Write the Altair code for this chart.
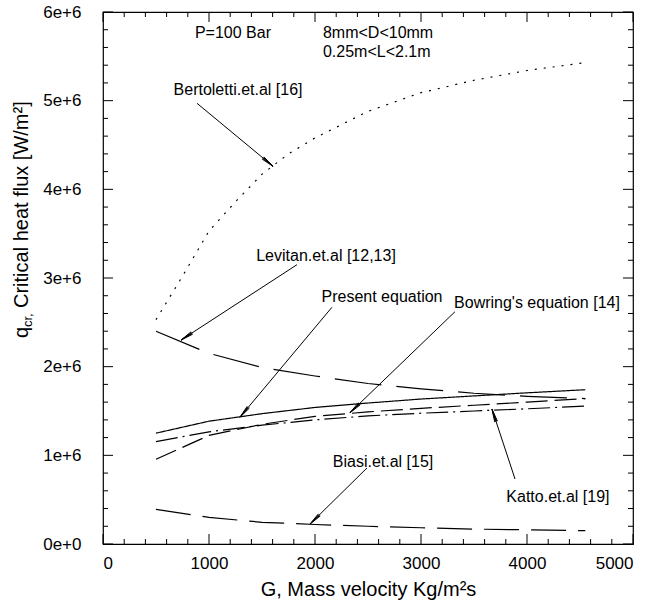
import math
import altair as alt
import pandas as pd

# ---------------- data ----------------
G = [500, 1000, 1500, 2000, 2500, 3000, 3500, 4000, 4550]
bertoletti_G = [500, 750, 1000, 1250, 1500, 1750, 2000, 2500, 3000, 3500, 4000, 4550]
bertoletti_q = [2.53e6, 3.02e6, 3.53e6, 3.86e6, 4.17e6, 4.40e6, 4.58e6, 4.88e6, 5.09e6, 5.23e6, 5.34e6, 5.43e6]
levitan_q = [2.40e6, 2.15e6, 1.99e6, 1.895e6, 1.81e6, 1.75e6, 1.70e6, 1.665e6, 1.64e6]
present_q = [1.25e6, 1.385e6, 1.47e6, 1.54e6, 1.59e6, 1.635e6, 1.67e6, 1.705e6, 1.74e6]
bowring_q = [0.955e6, 1.225e6, 1.35e6, 1.44e6, 1.49e6, 1.53e6, 1.565e6, 1.60e6, 1.64e6]
katto_q = [1.155e6, 1.265e6, 1.34e6, 1.40e6, 1.445e6, 1.475e6, 1.50e6, 1.525e6, 1.555e6]
biasi_q = [0.39e6, 0.30e6, 0.245e6, 0.22e6, 0.20e6, 0.183e6, 0.168e6, 0.16e6, 0.15e6]

# annotations (data coordinates)
ann_text = ["Bertoletti.et.al [16]", "Levitan.et.al [12,13]", "Present equation",
            "Bowring's equation [14]", "Biasi.et.al [15]", "Katto.et.al [19]", "P=100 Bar"]
ann_x = [1274, 2104, 2632, 4094, 2642, 4292, 1226]
ann_y = [5.12e6, 3.25e6, 2.79e6, 2.715e6, 0.925e6, 0.53e6, 5.76e6]
range_text = ["8mm<D<10mm", "0.25m<L<2.1m"]
range_x = [2075, 2075]
range_y = [5.76e6, 5.55e6]

arrow_x0 = [887, 1830, 2160, 3321, 2490, 3887]
arrow_y0 = [4.97e6, 3.15e6, 2.67e6, 2.62e6, 0.857e6, 0.733e6]
arrow_x1 = [1604, 736, 1292, 2330, 1953, 3670]
arrow_y1 = [4.26e6, 2.30e6, 1.43e6, 1.48e6, 0.225e6, 1.52e6]

x_major = [0, 1000, 2000, 3000, 4000, 5000]
x_minor = [200, 400, 600, 800, 1200, 1400, 1600, 1800, 2200, 2400, 2600, 2800,
           3200, 3400, 3600, 3800, 4200, 4400, 4600, 4800]
y_major = [0, 1e6, 2e6, 3e6, 4e6, 5e6, 6e6]
y_minor = [0.2e6, 0.4e6, 0.6e6, 0.8e6, 1.2e6, 1.4e6, 1.6e6, 1.8e6, 2.2e6, 2.4e6, 2.6e6, 2.8e6,
           3.2e6, 3.4e6, 3.6e6, 3.8e6, 4.2e6, 4.4e6, 4.6e6, 4.8e6, 5.2e6, 5.4e6, 5.6e6, 5.8e6]

# ---------------- layout ----------------
W, H = 530, 532
XMAX, YMAX = 5000, 6e6
FONT = "Liberation Sans"
xs = alt.Scale(domain=[0, XMAX], nice=False, zero=False)
ys = alt.Scale(domain=[0, YMAX], nice=False, zero=False)

series = [
    ("Bertoletti", bertoletti_G, bertoletti_q, [2, 7]),
    ("Levitan", G, levitan_q, [47, 15]),
    ("Present", G, present_q, [1, 0]),
    ("Bowring", G, bowring_q, [22, 7]),
    ("Katto", G, katto_q, [22, 5, 2, 5]),
    ("Biasi", G, biasi_q, [35, 12]),
]

layers = []
for name, gx, qy, dash in series:
    df = pd.DataFrame({"G": gx, "q": qy})
    layers.append(
        alt.Chart(df).mark_line(color="black", strokeWidth=1.2, strokeDash=dash, clip=True).encode(
            x=alt.X("G:Q", scale=xs, axis=alt.Axis(
                title="G, Mass velocity Kg/m²s", values=x_major, format="d",
                ticks=False, domain=False, grid=False,
                labelFont=FONT, labelFontSize=17, labelPadding=11, labelColor="black",
                titleFont=FONT, titleFontSize=20, titleFontWeight="normal", titlePadding=8,
                titleColor="black")),
            y=alt.Y("q:Q", scale=ys, axis=alt.Axis(
                title=None, values=y_major, ticks=False, domain=False, grid=False,
                labelExpr="format(datum.value/1e6,'d') + 'e+' + (datum.value == 0 ? '0' : '6')",
                labelFont=FONT, labelFontSize=17, labelPadding=22, labelColor="black")),
            order="G:Q",
        )
    )

# arrows
adf = pd.DataFrame({"x0": arrow_x0, "y0": arrow_y0, "x1": arrow_x1, "y1": arrow_y1})
pxG, pxQ = W / XMAX, H / YMAX
adf["ang"] = [
    math.degrees(math.atan2((b - a) * pxG, (d - c) * pxQ)) % 360
    for a, b, c, d in zip(arrow_x0, arrow_x1, arrow_y0, arrow_y1)
]
layers.append(alt.Chart(adf).mark_rule(color="black", strokeWidth=1).encode(
    x=alt.X("x0:Q", scale=xs), y=alt.Y("y0:Q", scale=ys), x2="x1:Q", y2="y1:Q"))
head = "M0,0L-0.22,2M0,0L0.22,2M0,0L-0.1,2M0,0L0.1,2"
layers.append(alt.Chart(adf).mark_point(shape=head, size=169, filled=False, color="black",
                                        strokeWidth=0.9, opacity=1).encode(
    x=alt.X("x1:Q", scale=xs), y=alt.Y("y1:Q", scale=ys), angle=alt.Angle("ang:Q", scale=None)))

# annotation texts
tdf = pd.DataFrame({"t": ann_text, "x": ann_x, "y": ann_y})
layers.append(alt.Chart(tdf).mark_text(font=FONT, fontSize=16, align="center", baseline="middle",
                                       color="black").encode(
    x=alt.X("x:Q", scale=xs), y=alt.Y("y:Q", scale=ys), text="t:N"))
rdf = pd.DataFrame({"t": range_text, "x": range_x, "y": range_y})
layers.append(alt.Chart(rdf).mark_text(font=FONT, fontSize=16, align="left", baseline="middle",
                                       color="black").encode(
    x=alt.X("x:Q", scale=xs), y=alt.Y("y:Q", scale=ys), text="t:N"))

# inward ticks on all four sides
def tick_layers(vals, length):
    d = pd.DataFrame({"v": vals})
    out = []
    out.append(alt.Chart(d).mark_rule(color="black", strokeWidth=1).encode(
        x=alt.X("v:Q", scale=xs), y=alt.value(H), y2=alt.value(H - length)))
    out.append(alt.Chart(d).mark_rule(color="black", strokeWidth=1).encode(
        x=alt.X("v:Q", scale=xs), y=alt.value(0), y2=alt.value(length)))
    return out

def ytick_layers(vals, length):
    d = pd.DataFrame({"v": vals})
    out = []
    out.append(alt.Chart(d).mark_rule(color="black", strokeWidth=1).encode(
        y=alt.Y("v:Q", scale=ys), x=alt.value(0), x2=alt.value(length)))
    out.append(alt.Chart(d).mark_rule(color="black", strokeWidth=1).encode(
        y=alt.Y("v:Q", scale=ys), x=alt.value(W), x2=alt.value(W - length)))
    return out

layers += tick_layers(x_major, 10) + tick_layers(x_minor, 5)
layers += ytick_layers(y_major, 10) + ytick_layers(y_minor, 5)

# y-axis title built from pieces (subscript "cr")
one = pd.DataFrame({"k": [0]})
layers.append(alt.Chart(one).mark_text(font=FONT, fontSize=20, angle=270, align="left",
                                       baseline="middle", color="black").encode(
    x=alt.value(-81), y=alt.value(326), text=alt.value("q")))
layers.append(alt.Chart(one).mark_text(font=FONT, fontSize=13, angle=270, align="left",
                                       baseline="middle", color="black").encode(
    x=alt.value(-75), y=alt.value(315), text=alt.value("cr,")))
layers.append(alt.Chart(one).mark_text(font=FONT, fontSize=20, angle=270, align="left",
                                       baseline="middle", color="black").encode(
    x=alt.value(-81), y=alt.value(296), text=alt.value("Critical heat flux [W/m²]")))

chart = alt.layer(*layers).properties(
    width=W, height=H,
    autosize=alt.AutoSizeParams(type="none"),
    padding={"left": 103, "top": 12, "right": 24, "bottom": 64},
    background="white",
).configure_view(stroke="black", strokeWidth=1.2)

chart.save("out.html", embed_options={"renderer": "svg", "actions": False})
